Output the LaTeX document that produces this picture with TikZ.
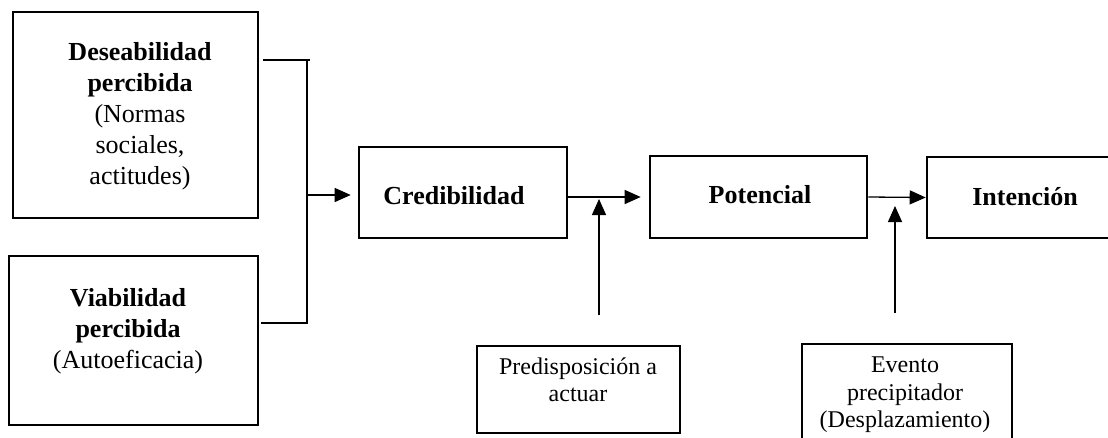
\documentclass[tikz,border=0pt]{standalone}
\usepackage{fontspec}
\setmainfont{Liberation Serif}
\usetikzlibrary{arrows.meta}
\begin{document}
\begin{tikzpicture}[x=1pt,y=-1pt,
  box/.style={draw,line width=2.6pt,inner sep=0pt},
  big/.style={font=\fontsize{26}{31}\selectfont,align=center,inner sep=0pt},
  small/.style={font=\fontsize{24}{27.5}\selectfont,align=center,inner sep=0pt},
  conn/.style={line width=1.3pt},
  arr/.style={conn,-{Triangle[length=16pt,width=14pt]}}]
\clip (0,0) rectangle (1108,437);
\fill[white] (0,0) rectangle (1108,437);

% boxes
\node[box,minimum width=245pt,minimum height=206pt] (b1) at (135.5,115) {};
\node[box,minimum width=249pt,minimum height=169pt] (b2) at (133.5,340.5) {};
\node[box,minimum width=208pt,minimum height=91pt] (cred) at (463,192.5) {};
\node[box,minimum width=217pt,minimum height=82pt] (pot) at (758.5,197) {};
\node[box,minimum width=240pt,minimum height=81pt] (int) at (1047,197.5) {};
\node[box,minimum width=203pt,minimum height=87pt] (pred) at (578.5,389.5) {};
\node[box,minimum width=210pt,minimum height=102pt] (ev) at (907,395) {};

% texts
\node[big] (t1) at (140,116) {\textbf{Deseabilidad}\\\textbf{percibida}\\(Normas\\sociales,\\actitudes)};
\node[big] (t2) at (128,331) {\textbf{Viabilidad}\\\textbf{percibida}\\(Autoeficacia)};
\node[big] (t3) at (454,196) {\textbf{Credibilidad}};
\node[big] (t4) at (760,195) {\textbf{Potencial}};
\node[big] (t5) at (1025,197) {\textbf{Intención}};
\node[small] (t6) at (578,380) {Predisposición a\\actuar};
\node[small] (t7) at (905,395) {Evento\\precipitador\\(Desplazamiento)};

% joining bracket
\coordinate (jt) at (307,60);
\coordinate (jb) at (307,323);
\coordinate (jm) at (307,195);
\draw[conn] ([xshift=4pt]b1.east |- jt) -- ([xshift=3pt]jt);
\draw[conn] ([xshift=2pt]b2.east |- jb) -- (jb) -- (jt);
\draw[arr] (jm) -- ([xshift=-7pt]jm -| cred.west);

% main chain
\draw[arr] (cred.east |- pot.west) -- ([xshift=-8pt]pot.west);
\draw[arr] (pot.east) -- (int.west);

% moderating influences
\coordinate (u1) at (599,315);
\coordinate (m1) at (599,199);
\coordinate (u2) at (895,313);
\coordinate (m2) at (895,206);
\draw[arr] (u1) -- (m1);
\draw[arr] (u2) -- (m2);
\end{tikzpicture}
\end{document}
